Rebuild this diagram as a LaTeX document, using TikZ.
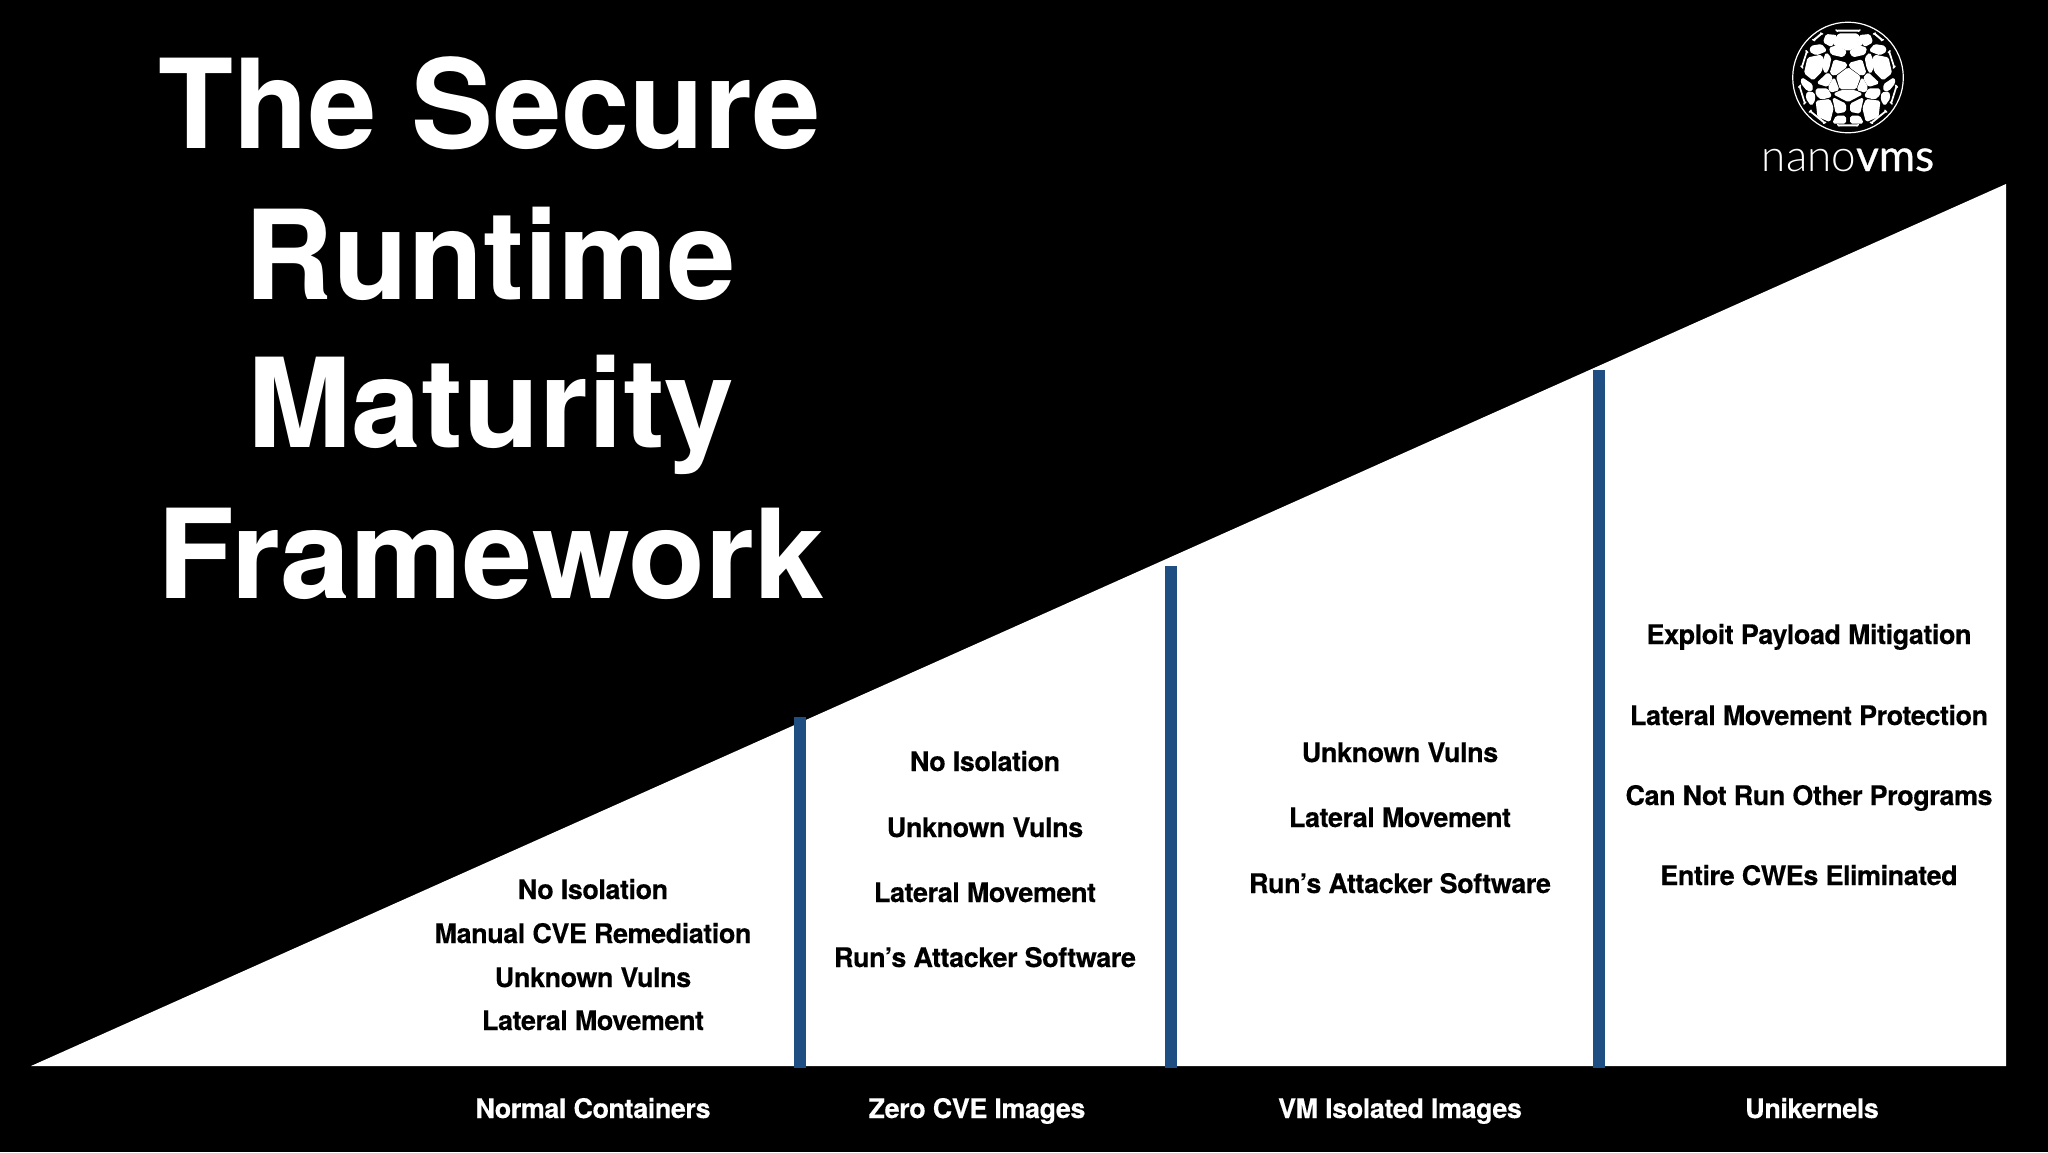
\documentclass[tikz,border=0pt]{standalone}
\usepackage{graphicx}
\usepackage{fontspec}
\setmainfont{TeX Gyre Heros}[BoldFont={* Bold}]
\newfontfamily\bodyf{TeX Gyre Heros Bold}[LetterSpace=-1.7,FakeBold=0.25]
\newfontfamily\logothin{Lato Light}
\newfontfamily\logobold{Lato}[FakeBold=0.6]
\definecolor{barblue}{HTML}{1F4E82}
\newcommand{\cell}[1]{\filldraw[white,rounded corners=1.5,line width=1.3pt,line join=round] #1 -- cycle;}
\tikzset{
  x=1pt,y=-1pt,
  titletext/.style={font=\fontsize{124}{150}\selectfont\bfseries,text=white,anchor=base,inner sep=0pt},
  bodytext/.style={font=\fontsize{27}{27}\bodyf,text=black,anchor=base,inner sep=0pt},
  captext/.style={font=\fontsize{27}{27}\bodyf,text=white,anchor=base,inner sep=0pt},
  barline/.style={fill=barblue,draw=none},
}
\begin{document}
\begin{tikzpicture}
\path[use as bounding box,fill=black] (0,0) rectangle (2048,1152);
\fill[white] (31,1066) -- (2006,184) -- (2006,1066) -- cycle;
\fill[barline] (794,717) rectangle (806,1068);
\fill[barline] (1165,566) rectangle (1177,1068);
\fill[barline] (1593,370) rectangle (1605,1068);
\node[titletext] (t1) at (490,148) {\scalebox{.99}[1]{The Secure}};
\node[titletext] (t2) at (490,299) {\scalebox{.99}[1]{Runtime}};
\node[titletext] (t3) at (491,447) {\scalebox{1.01}[1]{Maturity}};
\node[titletext] (t4) at (491,598) {\scalebox{1.016}[1]{Framework}};
\node[bodytext] (a1) at (593,899) {No Isolation};
\node[bodytext] (a2) at (593,943) {Manual CVE Remediation};
\node[bodytext] (a3) at (593,987) {Unknown Vulns};
\node[bodytext] (a4) at (593,1030) {Lateral Movement};
\node[bodytext] (b1) at (985,771) {No Isolation};
\node[bodytext] (b2) at (985,837) {Unknown Vulns};
\node[bodytext] (b3) at (985,902) {Lateral Movement};
\node[bodytext] (b4) at (985,967) {Run’s Attacker Software};
\node[bodytext] (c1) at (1400,762) {Unknown Vulns};
\node[bodytext] (c2) at (1400,827) {Lateral Movement};
\node[bodytext] (c3) at (1400,893) {Run’s Attacker Software};
\node[bodytext] (d1) at (1809,644) {Exploit Payload Mitigation};
\node[bodytext] (d2) at (1809,725) {Lateral Movement Protection};
\node[bodytext] (d3) at (1809,805) {Can Not Run Other Programs};
\node[bodytext] (d4) at (1809,885) {Entire CWEs Eliminated};
\node[captext] (e1) at (593,1118) {Normal Containers};
\node[captext] (e2) at (977,1118) {Zero CVE Images};
\node[captext] (e3) at (1400,1118) {VM Isolated Images};
\node[captext] (e4) at (1812,1118) {Unikernels};
\node[text=white,inner sep=0pt,anchor=base,font=\fontsize{44}{44}\selectfont] (logo) at (1848,171) {{\logothin nano}{\logobold vms}};
% logo ball
\draw[white,line width=1.2pt] (1848,77.5) circle[radius=55.3];
\begin{scope}[shift={(1848,78)}]
\foreach \m in {1,-1}{
\begin{scope}[x=\m*0.3333pt,y=-0.3333pt,shift={(-180,-180)}]
\cell{(139,126)--(175,136)--(175,146)--(140,172)--(127,165)}
\cell{(125,90)--(147,84)--(175,100)--(165,116)--(130,108)}
\cell{(115,50)--(146,53)--(130,85)--(107,72)}
\cell{(70,85)--(100,80)--(115,98)--(85,110)--(66,100)}
\cell{(60,120)--(100,112)--(105,125)--(100,160)--(75,185)--(50,165)}
\cell{(115,105)--(128,120)--(122,150)--(113,166)--(103,145)--(107,125)}
\cell{(120,165)--(133,180)--(118,205)--(88,195)}
\cell{(138,180)--(152,215)--(128,222)--(122,207)}
\cell{(42,180)--(72,200)--(72,218)--(58,217)--(40,195)}
\cell{(85,213)--(118,213)--(130,235)--(100,243)--(85,230)}
\cell{(58,222)--(78,225)--(80,245)--(70,262)--(55,240)}
\cell{(85,250)--(125,245)--(135,270)--(125,310)--(90,295)}
\cell{(135,240)--(172,258)--(172,280)--(145,285)}
\cell{(145,295)--(172,295)--(172,315)--(135,315)}
\cell{(66,280)--(67,279)--(111,314)--(109,315)}
\cell{(76,66)--(100,46)--(102,47)--(78,67)}
\cell{(34,205)--(35,204)--(51,255)--(50,256)}
\cell{(41,147)--(56,100)--(57,101)--(42,148)}
\end{scope}}
\begin{scope}[x=0.3333pt,y=-0.3333pt,shift={(-180,-180)}]
\cell{(180,150)--(216,176)--(203,212)--(157,212)--(146,176)}
\cell{(160,218)--(200,218)--(222,228)--(180,250)--(138,228)}
\cell{(152,48)--(208,48)--(225,78)--(180,97)--(135,78)}
\cell{(145,37)--(215,37)--(213,39)--(147,39)}
\cell{(150,321)--(210,321)--(208,323)--(152,323)}
\end{scope}
\end{scope}
\end{tikzpicture}
\end{document}
